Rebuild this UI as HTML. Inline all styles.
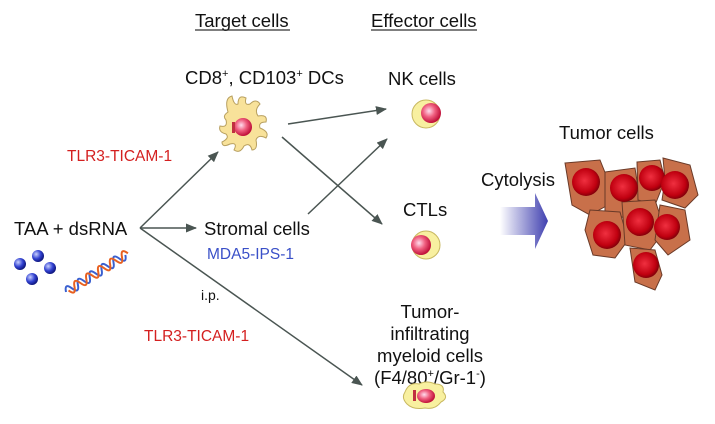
<!DOCTYPE html>
<html><head><meta charset="utf-8"><style>
body{margin:0;background:#fff}
svg{display:block;font-family:"Liberation Sans",sans-serif}
</style></head><body>
<svg width="715" height="424" viewBox="0 0 715 424" xmlns="http://www.w3.org/2000/svg">
<defs>
<marker id="ah" markerWidth="11" markerHeight="9" refX="10" refY="4.5" orient="auto" markerUnits="userSpaceOnUse"><path d="M0,0 L11,4.5 L0,9 Z" fill="#4a5552"/></marker>
<radialGradient id="pk" cx="40%" cy="40%" r="60%"><stop offset="0" stop-color="#fde"/><stop offset="0.5" stop-color="#f06080"/><stop offset="1" stop-color="#c0103a"/></radialGradient>
<radialGradient id="rd" cx="45%" cy="45%" r="60%"><stop offset="0" stop-color="#f03040"/><stop offset="0.7" stop-color="#c00010"/><stop offset="1" stop-color="#700008"/></radialGradient>
<radialGradient id="bl" cx="35%" cy="35%" r="65%"><stop offset="0" stop-color="#c8d0ff"/><stop offset="0.6" stop-color="#3040d0"/><stop offset="1" stop-color="#101880"/></radialGradient>
<linearGradient id="ar" x1="0" x2="1"><stop offset="0" stop-color="#fff"/><stop offset="1" stop-color="#4040b0"/></linearGradient>
</defs>
<g font-size="18.5" fill="#111">
<text x="195" y="27" >Target cells</text>
<line x1="195" y1="30" x2="290" y2="30" stroke="#333" stroke-width="1.2"/>
<text x="371" y="27">Effector cells</text>
<line x1="371" y1="30" x2="477" y2="30" stroke="#333" stroke-width="1.2"/>
<text x="185" y="84">CD8<tspan font-size="11" dy="-7">+</tspan><tspan dy="7">, CD103</tspan><tspan font-size="11" dy="-7">+</tspan><tspan dy="7"> DCs</tspan></text>
<text x="388" y="85">NK cells</text>
<text x="403" y="216">CTLs</text>
<text x="14" y="235">TAA + dsRNA</text>
<text x="204" y="235">Stromal cells</text>
<text x="481" y="186">Cytolysis</text>
<text x="559" y="139">Tumor cells</text>
<text x="430" y="318" text-anchor="middle">Tumor-</text>
<text x="430" y="340" text-anchor="middle">infiltrating</text>
<text x="430" y="362" text-anchor="middle">myeloid cells</text>
<text x="430" y="384" text-anchor="middle">(F4/80<tspan font-size="11" dy="-7">+</tspan><tspan dy="7">/Gr-1</tspan><tspan font-size="11" dy="-7">-</tspan><tspan dy="7">)</tspan></text>
</g>
<text x="67" y="161" font-size="15.5" fill="#d42020">TLR3-TICAM-1</text>
<text x="144" y="341" font-size="15.5" fill="#d42020">TLR3-TICAM-1</text>
<text x="207" y="259" font-size="15.5" fill="#3a50c8">MDA5-IPS-1</text>
<text x="201" y="300" font-size="14" fill="#111">i.p.</text>
<g stroke="#4a5552" stroke-width="1.5" fill="none" marker-end="url(#ah)">
<line x1="140" y1="228" x2="218" y2="152"/>
<line x1="140" y1="228" x2="196" y2="228"/>
<line x1="140" y1="228" x2="362" y2="385"/>
<line x1="288" y1="124" x2="386" y2="109"/>
<line x1="282" y1="137" x2="382" y2="224"/>
<line x1="308" y1="214" x2="387" y2="139"/>
</g>
<!-- DC -->
<path d="M228,112 q-4,-14 4,-16 q2,10 6,8 q0,-10 8,-6 q-2,8 4,6 q6,-6 10,0 q-6,6 -2,12 q10,-2 8,6 q-8,0 -6,6 q10,4 6,10 q-8,-4 -10,2 q2,10 -4,10 q-2,-8 -8,-4 q-4,8 -10,4 q4,-8 -4,-6 q-8,4 -8,-2 q8,-4 4,-8 q-8,-2 -6,-8 q8,2 6,-6 q-4,-4 2,-8 Z" fill="#f8e29a" stroke="#b8a060" stroke-width="1"/>
<circle cx="243" cy="127" r="9" fill="url(#pk)"/>
<rect x="232" y="122" width="3" height="11" fill="#c03040"/>
<!-- NK -->
<circle cx="426" cy="114" r="14" fill="#f8f0a0" stroke="#c8b860"/>
<circle cx="431" cy="113" r="10" fill="url(#pk)"/>
<!-- CTL -->
<circle cx="426" cy="245" r="14" fill="#f8f0a0" stroke="#c8b860"/>
<circle cx="421" cy="245" r="10" fill="url(#pk)"/>
<!-- myeloid -->
<path d="M405,392 q4,-10 14,-8 q8,-4 16,0 q10,0 8,8 q6,6 -2,10 q-6,8 -16,6 q-12,2 -18,-4 q-6,-6 -2,-12Z" fill="#f8f0a0" stroke="#c8b860"/>
<ellipse cx="426" cy="396" rx="9" ry="7" fill="url(#pk)"/>
<rect x="413" y="390" width="3" height="11" fill="#c03040"/>
<!-- spheres -->
<circle cx="20" cy="264" r="6" fill="url(#bl)"/>
<circle cx="38" cy="256" r="6" fill="url(#bl)"/>
<circle cx="50" cy="268" r="6" fill="url(#bl)"/>
<circle cx="32" cy="279" r="6" fill="url(#bl)"/>
<!-- helix -->
<g transform="translate(66,292) rotate(-32)">
<path d="M0,0 q3.5,-9 7,0 t7,0 t7,0 t7,0 t7,0 t7,0 t7,0 t7,0 t7,0 t7,0" stroke="#3a60d0" stroke-width="2" fill="none"/>
<path d="M3,0 q3.5,9 7,0 t7,0 t7,0 t7,0 t7,0 t7,0 t7,0 t7,0 t7,0 t7,0" stroke="#e86020" stroke-width="2" fill="none"/>
</g>
<!-- block arrow -->
<path d="M500,207 L535,207 L535,193 L548,221 L535,249 L535,235 L500,235 Z" fill="url(#ar)"/>
<!-- tumor cells -->
<g fill="#c8704a" stroke="#6a3a28" stroke-width="1">
<path d="M565,163 L600,160 L606,175 L608,205 L590,215 L572,205 Z"/>
<path d="M605,172 L635,168 L640,200 L625,218 L605,212 Z"/>
<path d="M637,162 L660,160 L665,180 L655,205 L638,200 Z"/>
<path d="M663,158 L690,165 L698,195 L685,208 L662,200 L665,180 Z"/>
<path d="M590,210 L620,212 L628,240 L615,258 L593,255 L585,230 Z"/>
<path d="M622,202 L655,200 L665,230 L650,250 L625,245 Z"/>
<path d="M660,205 L685,210 L690,240 L668,255 L655,240 Z"/>
<path d="M630,248 L655,250 L662,275 L655,290 L635,282 Z"/>
</g>
<g fill="url(#rd)">
<circle cx="586" cy="182" r="14"/>
<circle cx="624" cy="188" r="14"/>
<circle cx="652" cy="178" r="13"/>
<circle cx="675" cy="185" r="14"/>
<circle cx="607" cy="235" r="14"/>
<circle cx="640" cy="222" r="14"/>
<circle cx="667" cy="227" r="13"/>
<circle cx="646" cy="265" r="13"/>
</g>
</svg>
</body></html>
